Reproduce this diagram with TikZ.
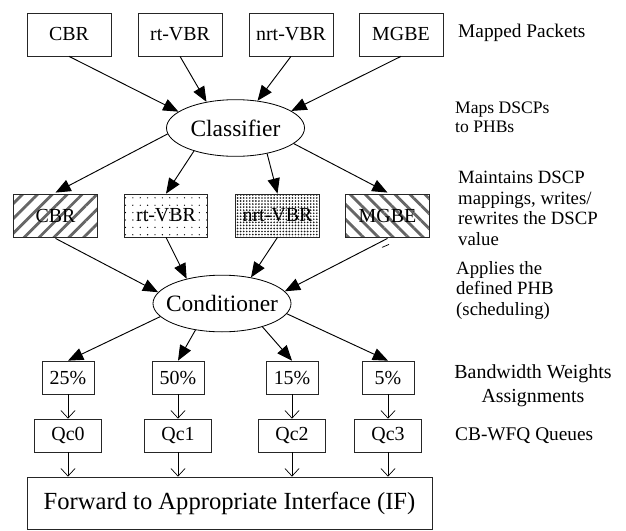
\documentclass[tikz,border=0pt]{standalone}
\usepackage{fontspec}
\setmainfont{Liberation Serif}
\usetikzlibrary{shapes.geometric, arrows.meta, patterns.meta, positioning}

\tikzstyle{pktBox} = [rectangle, draw=black!85, line width=0.6pt, minimum width=2.52cm, minimum height=1.29cm, inner sep=0pt, font=\fontsize{17}{20}\selectfont]
\tikzstyle{markBox} = [pktBox, minimum width=2.5cm]
\tikzstyle{bwBox} = [pktBox, minimum width=1.56cm, minimum height=0.99cm]
\tikzstyle{queueBox} = [pktBox, minimum width=2.0cm, minimum height=0.99cm]
\tikzstyle{procNode} = [ellipse, draw=black, line width=0.7pt, minimum width=4.14cm, minimum height=1.7cm, inner xsep=-8pt, inner ysep=0pt, font=\fontsize{20}{24}\selectfont]
\tikzstyle{bigArrow} = [line width=0.8pt, -{Triangle[length=13pt,width=10.5pt]}]
\tikzstyle{thinArrow} = [line width=0.6pt, -{Straight Barb[length=6.5pt,width=12pt]}]
\tikzstyle{note} = [anchor=base west, align=left, inner sep=0pt]
% fills of the marked packets
\tikzstyle{hatchRight} = [pattern={Lines[angle=45,distance=9pt,line width=2.4pt]}, pattern color=black!60]
\tikzstyle{hatchLeft} = [pattern={Lines[angle=-45,distance=9pt,line width=2.4pt]}, pattern color=black!60]
\tikzstyle{dotsSparse} = [pattern={Dots[distance=6.3pt,radius=0.55pt]}, pattern color=black]
\tikzstyle{dotsDense} = [pattern={Dots[distance=2.6pt,radius=0.8pt]}, pattern color=black!90]

\begin{document}
\begin{tikzpicture}[x=0.03cm, y=-0.03cm]
\useasboundingbox (0,0) rectangle (626,530);

% mapped packets
\node (cbrA) [pktBox] at (69,34.5) {CBR};
\node (rtA) [pktBox] at (180,34.5) {rt-VBR};
\node (nrtA) [pktBox] at (291,34.5) {nrt-VBR};
\node (mgA) [pktBox] at (401,34.5) {MGBE};

\node (cls) [procNode] at (235.5,128) {Classifier};

% marked packets
\node (cbrB) [markBox, hatchRight] at (55.5,215.5) {CBR};
\node (rtB) [markBox, dotsSparse] at (166,215.5) {rt-VBR};
\node (nrtB) [markBox, dotsDense] at (277.5,215.5) {nrt-VBR};
\node (mgB) [markBox, hatchLeft] at (387.5,215.5) {MGBE};

\node (cnd) [procNode] at (222,303.5) {Conditioner};

% weights and queues
\node (bw25) [bwBox] at (68,377.5) {25\%};
\node (bw50) [bwBox] at (178,377.5) {50\%};
\node (bw15) [bwBox] at (292,377.5) {15\%};
\node (bw5) [bwBox] at (388,377.5) {5\%};

\node (qc0) [queueBox] at (68,435.5) {Qc0};
\node (qc1) [queueBox] at (178,435.5) {Qc1};
\node (qc2) [queueBox] at (292,435.5) {Qc2};
\node (qc3) [queueBox] at (388,435.5) {Qc3};

\node (fwd) [pktBox, minimum width=12.15cm, minimum height=1.56cm, font=\fontsize{21}{24}\selectfont] at (229.5,503) {Forward to Appropriate Interface (IF)};

% notes on the right (base is the last line)
\node (nMap) [note, font=\fontsize{16.5}{19}\selectfont] at (458,37) {Mapped Packets};
\node (nCls) [note, font=\fontsize{15}{16.2}\selectfont] at (455,132) {Maps DSCPs\\to PHBs};
\node (nMark) [note, font=\fontsize{16}{17.5}\selectfont] at (458,245) {Maintains DSCP\\mappings, writes/\\rewrites the DSCP\\value};
\node (nCnd) [note, font=\fontsize{16}{17.5}\selectfont] at (456,315) {Applies the\\defined PHB\\(scheduling)};
\node (nBw) [note, anchor=base, align=center, font=\fontsize{17}{20}\selectfont] at (533,402) {Bandwidth Weights\\Assignments};
\node (nQ) [note, font=\fontsize{16.5}{19}\selectfont] at (455,440) {CB-WFQ Queues};

\draw [bigArrow] (cbrA.south) -- (cls.164.5);
\draw [bigArrow] (rtA.south) -- (cls.138.6);
\draw [bigArrow] (nrtA.south) -- (cls.51.2);
\draw [bigArrow] (mgA.south) -- (cls.17.4);

\draw [bigArrow] (cls.185.8) -- (cbrB.north);
\draw [bigArrow] (cls.209.5) -- (rtB.north);
\draw [bigArrow] (cls.321.3) -- (nrtB.north);
\draw [bigArrow] (cls.345.4) -- (mgB.north);

\draw [bigArrow] (cbrB.south) -- (cnd.170.7);
\draw [bigArrow] (rtB.south) -- (cnd.145.1);
\draw [bigArrow] (nrtB.south) -- (cnd.42.6);
\draw [bigArrow] (mgB.south) -- (cnd.11.7);
\draw [line width=0.6pt] ([shift={(-5.5,9)}]mgB.south) -- ++(7,-3);

\draw [bigArrow] (cnd.192.6) -- (bw25.north);
\draw [bigArrow] (cnd.225.5) -- (bw50.north);
\draw [bigArrow] (cnd.330.2) -- (bw15.north);
\draw [bigArrow] (cnd.351) -- (bw5.north);

\draw [thinArrow] (bw25) -- (qc0);
\draw [thinArrow] (bw50) -- (qc1);
\draw [thinArrow] (bw15) -- (qc2);
\draw [thinArrow] (bw5) -- (qc3);

\draw [thinArrow] (qc0.south) -- (qc0.south |- fwd.north);
\draw [thinArrow] (qc1.south) -- (qc1.south |- fwd.north);
\draw [thinArrow] (qc2.south) -- (qc2.south |- fwd.north);
\draw [thinArrow] (qc3.south) -- (qc3.south |- fwd.north);
\end{tikzpicture}
\end{document}
